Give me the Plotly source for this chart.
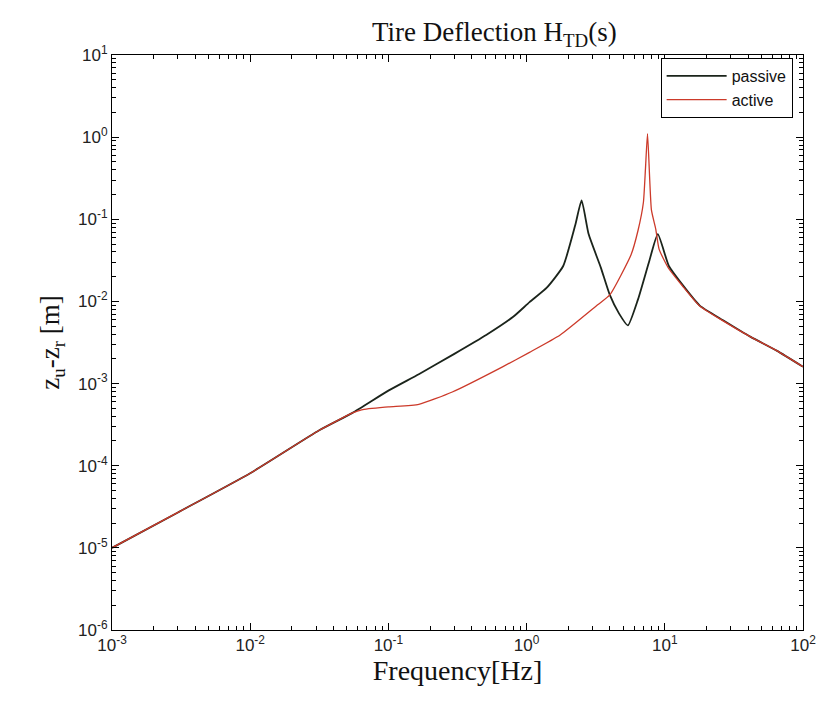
import plotly.graph_objects as go

# Frequencies [Hz] and magnitudes [m]
freq_passive = [0.001, 0.003, 0.01, 0.0316, 0.055, 0.1, 0.166, 0.3, 0.51, 0.8, 1.05, 1.4,
                1.84, 2.25, 2.5, 2.81, 3.44, 4.0, 4.67, 5.4, 6.4, 7.76, 8.9, 10.7, 13.4,
                17.9, 26.4, 41.8, 65, 100]
passive = [1e-5, 2.7e-5, 8.1e-5, 2.7e-4, 4.4e-4, 8.2e-4, 1.3e-3, 2.3e-3, 3.9e-3, 6.5e-3,
           9.8e-3, 0.0147, 0.027, 0.085, 0.17, 0.066, 0.026, 0.012, 7.1e-3, 5.1e-3,
           0.0106, 0.032, 0.066, 0.027, 0.016, 8.9e-3, 5.9e-3, 3.7e-3, 2.5e-3, 1.6e-3]

freq_active = [0.001, 0.003, 0.01, 0.0316, 0.055, 0.064, 0.1, 0.166, 0.29, 0.67, 1.05,
               1.75, 3.27, 4.0, 5.7, 6.4, 7.0, 7.25, 7.5, 8.0, 8.6, 9.1, 10.7, 13.4, 17.9,
               26.4, 41.8, 65, 100]
active = [1e-5, 2.7e-5, 8.1e-5, 2.7e-4, 4.4e-4, 4.8e-4, 5.2e-4, 5.6e-4, 7.9e-4, 1.6e-3,
          2.4e-3, 3.9e-3, 9.1e-3, 0.012, 0.037, 0.073, 0.16, 0.42, 1.1, 0.13, 0.076,
          0.043, 0.025, 0.0155, 8.8e-3, 5.8e-3, 3.7e-3, 2.5e-3, 1.6e-3]

x_exps = [-3, -2, -1, 0, 1, 2]
y_exps = [-6, -5, -4, -3, -2, -1, 0, 1]

fig = go.Figure()
fig.add_trace(go.Scatter(x=freq_passive, y=passive, mode="lines", name="passive",
                         line=dict(color="#1b241b", width=1.8, shape="spline", smoothing=0.5)))
fig.add_trace(go.Scatter(x=freq_active, y=active, mode="lines", name="active",
                         line=dict(color="#cc3a2a", width=1.3, shape="spline", smoothing=0.5)))

def minor_vals(exps):
    out = []
    for e in exps[:-1]:
        for m in range(2, 10):
            out.append(m * 10.0 ** e)
    return out

axis_common = dict(type="log", showline=True, linecolor="black", linewidth=1, mirror="ticks",
                   ticks="inside", ticklen=7, tickcolor="black", showgrid=False, zeroline=False,
                   tickfont=dict(family="Liberation Sans, Arial, sans-serif", size=17, color="#222"))

fig.update_xaxes(**axis_common,
                 range=[-3, 2],
                 tickvals=[10.0 ** e for e in x_exps],
                 ticktext=["10<sup>%d</sup>" % e for e in x_exps],
                 minor=dict(tickvals=minor_vals(x_exps), ticks="inside", ticklen=4,
                            tickcolor="black", showgrid=False),
                 title=dict(text="Frequency[Hz]", standoff=4,
                            font=dict(family="Liberation Serif, Times New Roman, serif",
                                      size=28, color="#111")))
fig.update_yaxes(**axis_common,
                 range=[-6, 1],
                 tickvals=[10.0 ** e for e in y_exps],
                 ticktext=["10<sup>%d</sup>" % e for e in y_exps],
                 minor=dict(tickvals=minor_vals(y_exps), ticks="inside", ticklen=4,
                            tickcolor="black", showgrid=False),
                 title=dict(text="z<sub>u</sub>-z<sub>r</sub> [m]", standoff=10,
                            font=dict(family="Liberation Serif, Times New Roman, serif",
                                      size=27, color="#111")))

fig.update_layout(
    width=828, height=708,
    margin=dict(l=112, r=20, t=55, b=78),
    paper_bgcolor="white", plot_bgcolor="white",
    showlegend=True,
    legend=dict(x=0.985, y=0.995, xanchor="right", yanchor="top",
                bgcolor="white", bordercolor="black", borderwidth=1,
                font=dict(family="Liberation Sans, Arial, sans-serif", size=16, color="#111"),
                tracegroupgap=0, itemwidth=60),
    annotations=[dict(text="Tire Deflection H<sub>TD</sub>(s)", xref="paper", yref="paper",
                      x=0.553, y=1.0, yshift=2, xanchor="center", yanchor="bottom",
                      showarrow=False,
                      font=dict(family="Liberation Serif, Times New Roman, serif",
                                size=27, color="#111"))],
)

fig.write_html("out.html")
